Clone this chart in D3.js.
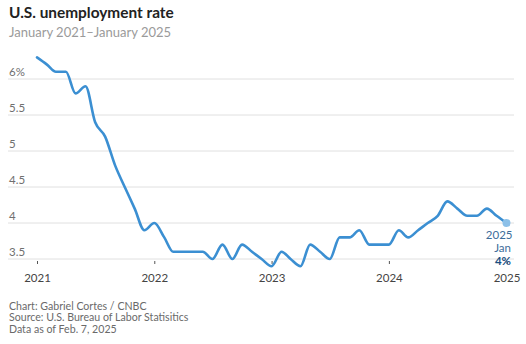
<!DOCTYPE html>
<html>
<head>
<meta charset="utf-8">
<script src="https://cdn.jsdelivr.net/npm/d3@7"></script>
<style>
  html, body { margin: 0; padding: 0; background: #fff; }
  svg { display: block; font-family: Lato, "Open Sans", sans-serif; }
</style>
</head>
<body>
<svg id="chart" width="526" height="344"></svg>
<script>
// ---- data ----
const startMonth = "2021-01";
const rates = [
  // 2021
  6.3, 6.2, 6.1, 6.1, 5.8, 5.9, 5.4, 5.2, 4.8, 4.5, 4.2, 3.9,
  // 2022
  4.0, 3.8, 3.6, 3.6, 3.6, 3.6, 3.5, 3.7, 3.5, 3.7, 3.6, 3.5,
  // 2023
  3.4, 3.6, 3.5, 3.4, 3.7, 3.6, 3.5, 3.8, 3.8, 3.9, 3.7, 3.7,
  // 2024
  3.7, 3.9, 3.8, 3.9, 4.0, 4.1, 4.3, 4.2, 4.1, 4.1, 4.2, 4.1,
  // 2025
  4.0
];
const yTicks = [3.5, 4, 4.5, 5, 5.5, 6];
const xTickYears = [2021, 2022, 2023, 2024, 2025];
const title = "U.S. unemployment rate";
const subtitle = "January 2021–January 2025";
const footer = ["Chart: Gabriel Cortes / CNBC", "Source: U.S. Bureau of Labor Statisitics", "Data as of Feb. 7, 2025"];
const endLabel = ["2025", "Jan", "4%"];

// ---- build ----
const parse = d3.timeParse("%Y-%m");
const t0 = parse(startMonth);
const data = rates.map((v, i) => ({ date: d3.timeMonth.offset(t0, i), value: v }));

const svg = d3.select("#chart");
const x = d3.scaleTime()
  .domain([new Date(2021, 0, 1), new Date(2025, 0, 1)])
  .range([37, 506.5]);
const y = d3.scaleLinear().domain([3.5, 6]).range([259, 79]);

// title
svg.append("text").attr("x", 9).attr("y", 18)
  .attr("font-size", 15.4).attr("font-weight", 700).attr("fill", "#222")
  .text(title);
svg.append("text").attr("x", 9).attr("y", 36.5)
  .attr("font-size", 13).attr("fill", "#9a9a9a")
  .text(subtitle);

// grid
const grid = svg.append("g");
grid.selectAll("line").data(yTicks).join("line")
  .attr("x1", 8).attr("x2", 514)
  .attr("y1", d => y(d)).attr("y2", d => y(d))
  .attr("stroke", "#e0e0e0").attr("stroke-width", 1);
grid.selectAll("text").data(yTicks).join("text")
  .attr("x", 9).attr("y", d => y(d) - 3)
  .attr("font-size", 11.5).attr("fill", "#6f6f6f")
  .text(d => d === 6 ? "6%" : String(d));

// x axis
const xAxis = d3.axisBottom(x)
  .tickValues(xTickYears.map(yr => new Date(yr, 0, 1)))
  .tickFormat(d3.timeFormat("%Y"))
  .tickSize(3).tickPadding(10);
const gx = svg.append("g").attr("transform", "translate(0,261)").call(xAxis);
gx.select(".domain").remove();
gx.selectAll(".tick line").attr("stroke", "#555").attr("stroke-width", 1);
gx.selectAll(".tick text").attr("font-size", 11.5).attr("fill", "#444")
  .attr("font-family", "Lato, 'Open Sans', sans-serif");

// line
svg.append("path").datum(data)
  .attr("fill", "none").attr("stroke", "#3b8fd2").attr("stroke-width", 2.6)
  .attr("stroke-linejoin", "round").attr("stroke-linecap", "round")
  .attr("d", d3.line().x(d => x(d.date)).y(d => y(d.value)).curve(d3.curveMonotoneX));

// end point
const last = data[data.length - 1];
svg.append("circle").attr("cx", x(last.date)).attr("cy", y(last.value))
  .attr("r", 4).attr("fill", "#8cc0e8");

const lx = 511;
svg.append("text").attr("x", lx + 1.5).attr("y", 238.5).attr("text-anchor", "end")
  .attr("font-size", 11.5).attr("fill", "#3d6d9a").text(endLabel[0]);
svg.append("text").attr("x", lx).attr("y", 252).attr("text-anchor", "end")
  .attr("font-size", 11.5).attr("fill", "#3d6d9a").text(endLabel[1]);
svg.append("text").attr("x", lx).attr("y", 265).attr("text-anchor", "end")
  .attr("font-size", 11.5).attr("font-weight", 700).attr("fill", "#1b4f82").text(endLabel[2]);

// footer
svg.append("g").selectAll("text").data(footer).join("text")
  .attr("x", 9).attr("y", (d, i) => 309.5 + i * 11.8)
  .attr("font-size", 10.6).attr("fill", "#6a6a6a")
  .text(d => d);
</script>
</body>
</html>
